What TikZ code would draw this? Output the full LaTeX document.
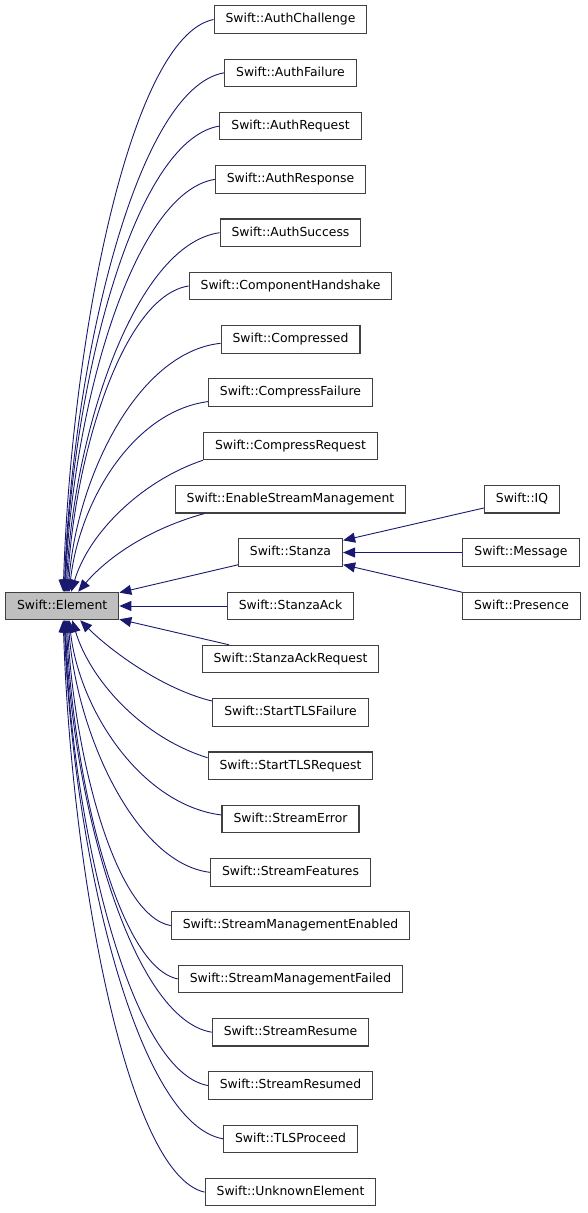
\documentclass[tikz,border=0pt]{standalone}
\usepackage{fontspec}
\setmainfont{DejaVu Sans}
\usetikzlibrary{arrows.meta}
\definecolor{edgeblue}{HTML}{191970}
\definecolor{basegray}{HTML}{BFBFBF}
\tikzset{
  cls/.style={draw=black!75, line width=1.1pt, fill=white, inner xsep=11.5pt, inner ysep=0pt,
    minimum height=27.5pt, text height=9.3pt, text depth=2.6pt, font=\fontsize{12.4}{14}\selectfont},
  basecls/.style={cls, fill=basegray},
  inh/.style={draw=edgeblue, line width=0.9pt, -{Triangle[length=12pt,width=10pt]}},
}
\begin{document}
\begin{tikzpicture}[x=1pt,y=-1pt]
		\useasboundingbox (0,0) rectangle (587,1213);

		\node[basecls] (el) at (62.2,606) {Swift::Element};

		\node[cls] (ac)    at (290.5,  19.5) {Swift::AuthChallenge};
		\node[cls] (af)    at (290.5,  72.8) {Swift::AuthFailure};
		\node[cls] (areq)  at (290.5, 126.1) {Swift::AuthRequest};
		\node[cls] (aresp) at (290.5, 179.4) {Swift::AuthResponse};
		\node[cls] (asucc) at (290.5, 232.7) {Swift::AuthSuccess};
		\node[cls] (ch)    at (290.5, 286.0) {Swift::ComponentHandshake};
		\node[cls] (cmp)   at (290.5, 339.3) {Swift::Compressed};
		\node[cls] (cf)    at (290.5, 392.6) {Swift::CompressFailure};
		\node[cls] (cr)    at (290.5, 445.9) {Swift::CompressRequest};
		\node[cls] (esm)   at (290.5, 499.2) {Swift::EnableStreamManagement};
		\node[cls] (st)    at (290.5, 552.5) {Swift::Stanza};
		\node[cls] (sa)    at (290.5, 606.0) {Swift::StanzaAck};
		\node[cls] (sar)   at (290.5, 659.1) {Swift::StanzaAckRequest};
		\node[cls] (stf)   at (290.5, 712.4) {Swift::StartTLSFailure};
		\node[cls] (str)   at (290.5, 765.7) {Swift::StartTLSRequest};
		\node[cls] (se)    at (290.5, 819.0) {Swift::StreamError};
		\node[cls] (sf)    at (290.5, 872.3) {Swift::StreamFeatures};
		\node[cls] (sme)   at (290.5, 925.6) {Swift::StreamManagementEnabled};
		\node[cls] (smf)   at (290.5, 978.9) {Swift::StreamManagementFailed};
		\node[cls] (sres)  at (290.5,1032.2) {Swift::StreamResume};
		\node[cls] (sresd) at (290.5,1085.5) {Swift::StreamResumed};
		\node[cls] (tls)   at (290.5,1138.8) {Swift::TLSProceed};
		\node[cls] (ue)    at (290.5,1192.1) {Swift::UnknownElement};

		\node[cls] (iq)   at (522.0, 499.2) {Swift::IQ};
		\node[cls] (msg)  at (521.0, 552.5) {Swift::Message};
		\node[cls] (pres) at (521.5, 606.0) {Swift::Presence};

		% classes above the base
		\draw[inh] (ac.west)    .. controls +(-84,17) and +(8,-250) .. ([xshift=1pt]el.north);
		\draw[inh] (af.west)    .. controls +(-88,15) and +(8,-228) .. ([xshift=2pt]el.north);
		\draw[inh] (areq.west)  .. controls +(-86,14) and +(7,-205) .. ([xshift=2.5pt]el.north);
		\draw[inh] (aresp.west) .. controls +(-82,13) and +(7,-182) .. ([xshift=3pt]el.north);
		\draw[inh] (asucc.west) .. controls +(-85,12) and +(7,-158) .. ([xshift=4pt]el.north);
		\draw[inh] (ch.west)    .. controls +(-66,10) and +(7,-135) .. ([xshift=5pt]el.north);
		\draw[inh] ([yshift=-4pt]cmp.west) .. controls +(-84,9) and +(8,-112) .. ([xshift=6pt]el.north);
		\draw[inh] ([yshift=-9pt]cf.west)  .. controls +(-75,10) and +(10,-90) .. ([xshift=7pt]el.north);
		\draw[inh] (cr.south west) .. controls +(-60,20) and +(18,-60) .. ([xshift=9pt]el.north);
		\draw[inh] ([xshift=30pt]esm.south west) .. controls +(-55,15) and +(30,-35) .. ([xshift=16pt]el.north);

		% straight ones
		\draw[inh] (st) -- (el);
		\draw[inh] (sa) -- (el);
		\draw[inh] (sar) -- (el);
		\draw[inh] (iq) -- (st);
		\draw[inh] (msg) -- (st);
		\draw[inh] (pres) -- (st);

		% classes below the base
		\draw[inh] ([yshift=-3pt]stf.north west) .. controls +(-50,-12) and +(30,30) .. ([xshift=18pt]el.south);
		\draw[inh] ([yshift=8pt]str.west) .. controls +(-65,-20) and +(18,60) .. ([xshift=10pt]el.south);
		\draw[inh] ([yshift=4pt]se.west)  .. controls +(-80,-10) and +(10,90) .. ([xshift=7pt]el.south);
		\draw[inh] (sf.west)    .. controls +(-75,-9) and +(8,112) .. ([xshift=6pt]el.south);
		\draw[inh] (sme.west)   .. controls +(-56,-10) and +(7,135) .. ([xshift=5pt]el.south);
		\draw[inh] (smf.west)   .. controls +(-60,-12) and +(7,158) .. ([xshift=4pt]el.south);
		\draw[inh] (sres.west)  .. controls +(-80,-13) and +(7,182) .. ([xshift=3pt]el.south);
		\draw[inh] (sresd.west) .. controls +(-78,-14) and +(7,205) .. ([xshift=2.5pt]el.south);
		\draw[inh] (tls.west)   .. controls +(-87,-15) and +(8,228) .. ([xshift=2pt]el.south);
		\draw[inh] (ue.west)    .. controls +(-78,-17) and +(8,250) .. ([xshift=1pt]el.south);

	\end{tikzpicture}
\end{document}
